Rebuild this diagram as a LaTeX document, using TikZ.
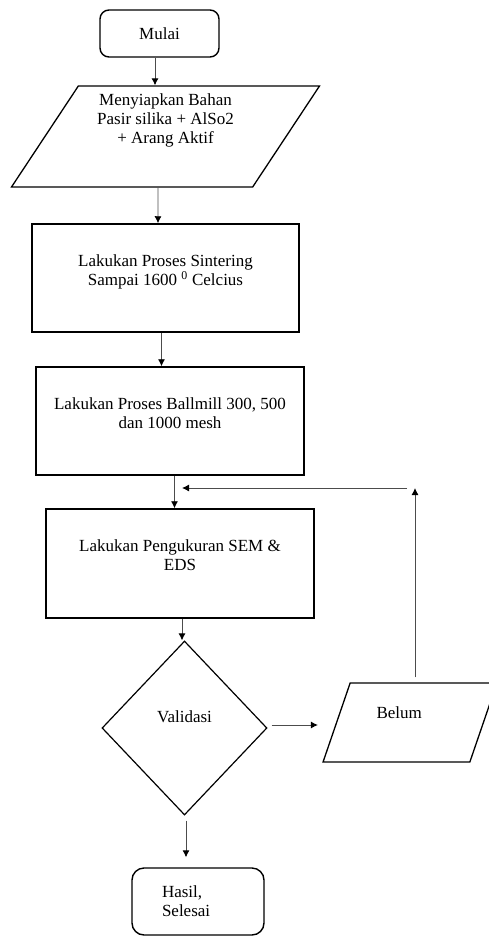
\documentclass[tikz,border=0pt]{standalone}
\usepackage{fontspec}
\setmainfont{Liberation Serif}
\usetikzlibrary{shapes.geometric,arrows.meta,calc}
\begin{document}
\begin{tikzpicture}[x=1pt,y=-1pt,
  font=\fontsize{17}{19}\selectfont,
  terminal/.style={draw,line width=1.4pt,rounded corners=9pt,align=center},
  masukan/.style={draw,line width=1.3pt,trapezium,trapezium stretches=true,align=center},
  proses/.style={draw,line width=1.5pt,rectangle,align=center,text depth=16pt},
  keputusan/.style={draw,line width=1.2pt,diamond,align=center,text depth=22pt},
  panah/.style={draw=black!70,line width=0.9pt,-{Latex[length=7pt,width=7pt,black]}}]
%
\useasboundingbox (0,0) rectangle (489,936);
%
% terminal, masukan, proses
\node[terminal,minimum width=119pt,minimum height=47pt] (1) at (159.5,33.5) {Mulai};
\node[masukan,trapezium left angle=59,trapezium right angle=121,
  minimum width=309pt,minimum height=101pt,text depth=35pt] (2) at (165.5,136.5)
  {Menyiapkan Bahan\\Pasir silika + AlSo2\\+ Arang Aktif};
\node[proses,minimum width=267pt,minimum height=108pt] (3) at (165.5,278)
  {Lakukan Proses Sintering\\Sampai 1600 \textsuperscript{0} Celcius};
\node[proses,minimum width=268pt,minimum height=108pt] (4) at (170,421)
  {Lakukan Proses Ballmill 300, 500\\dan 1000 mesh};
\node[proses,minimum width=268pt,minimum height=109pt] (5) at (180,563.5)
  {Lakukan Pengukuran SEM \&\\EDS};
%
% validasi, belum, selesai
\node[keputusan,minimum width=165pt,minimum height=174pt] (6) at (184.5,728) {Validasi};
\node[masukan,trapezium left angle=66,trapezium right angle=114,
  minimum width=174pt,minimum height=79pt,text depth=19pt,text width=67pt,align=left]
  (7) at (410,722.5) {Belum};
\node[terminal,rounded corners=12pt,minimum width=132pt,minimum height=67pt,
  text width=72pt,align=left] (8) at (198,901.5) {Hasil,\\Selesai};
%
% flechas
\draw[panah] ($(1.south)+(-4.5,0)$) -- ($(1.south |- 2.north)+(-4.5,0)$);
\draw[panah] ($(2.south)+(-7.5,0)$) -- ($(3.north)+(-7.5,0)$);
\draw[panah] ($(3.south)+(-4,0)$) -- ($(3.south |- 4.north)+(-4,0)$);
\draw[panah] ($(4.south)+(4.5,0)$) -- ($(4.south |- 5.north)+(4.5,0)$);
\draw[panah] ($(5.south)+(2,0)$) -- ($(5.south |- 6.north)+(2,0)$);
\draw[panah] ($(6.east)+(4,-3)$) -- ($(6.east -| 7.west)+(-18,-3)$);
\draw[panah] ($(6.south)+(1.5,5)$) -- ($(6.south |- 8.north)+(1.5,-10)$);
%
% vuelta
\coordinate (b) at (415,488);
\draw[panah] ($(7.north -| b)+(0,-5)$) -- (b);
\draw[panah] ($(b)+(-8,0)$) -- ($(b -| 5.north)+(2,0)$);
%
\end{tikzpicture}
\end{document}
